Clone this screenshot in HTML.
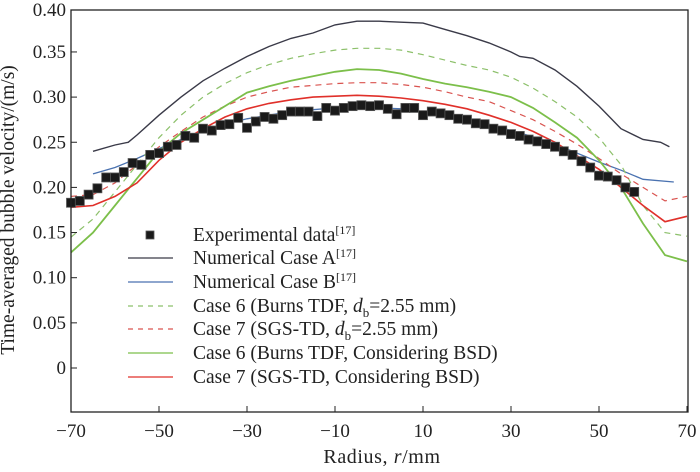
<!DOCTYPE html>
<html><head><meta charset="utf-8"><style>
body{margin:0;background:#fff}
svg{display:block;font-family:"Liberation Serif",serif}
</style></head><body>
<svg id="c" width="700" height="472" viewBox="0 0 700 472">
<rect x="0" y="0" width="700" height="472" fill="#fff"/>
<g id="marks"></g>
<rect x="71" y="10" width="617" height="402" fill="none" stroke="#222" stroke-width="1.3"/>
<g id="axes"></g>
<text x="14" y="210" font-size="19.5" fill="#222" text-anchor="middle" transform="rotate(-90 14 210)">Time-averaged bubble velocity/(m/s)</text>
<text x="382" y="463" font-size="20" fill="#222" text-anchor="middle" letter-spacing="0.6">Radius, <tspan font-style="italic">r</tspan>/mm</text>
<g id="legend"></g>
</svg>
<script>
const expR=[-70,-68,-66,-64,-62,-60,-58,-56,-54,-52,-50,-48,-46,-44,-42,-40,-38,-36,-34,-32,-30,-28,-26,-24,-22,-20,-18,-16,-14,-12,-10,-8,-6,-4,-2,0,2,4,6,8,10,12,14,16,18,20,22,24,26,28,30,32,34,36,38,40,42,44,46,48,50,52,54,56,58];
const expV=[0.183,0.185,0.192,0.199,0.211,0.211,0.217,0.227,0.225,0.236,0.238,0.245,0.247,0.257,0.255,0.265,0.263,0.269,0.270,0.277,0.266,0.273,0.278,0.276,0.280,0.284,0.284,0.284,0.279,0.288,0.285,0.288,0.290,0.291,0.290,0.291,0.287,0.281,0.288,0.288,0.280,0.284,0.282,0.280,0.276,0.275,0.271,0.270,0.265,0.263,0.259,0.257,0.253,0.251,0.248,0.245,0.240,0.236,0.229,0.222,0.213,0.212,0.208,0.200,0.195];
const aR=[-65,-60,-57,-55,-50,-45,-40,-35,-30,-25,-20,-15,-10,-5,0,5,10,15,20,25,30,32,35,40,45,50,55,60,64,66];
const aV=[0.240,0.247,0.250,0.258,0.280,0.300,0.318,0.332,0.345,0.356,0.365,0.371,0.380,0.384,0.384,0.383,0.382,0.375,0.368,0.360,0.350,0.345,0.343,0.330,0.312,0.290,0.265,0.253,0.250,0.245];
const bR=[-65,-60,-55,-50,-45,-40,-35,-30,-25,-20,-15,-10,-5,0,5,10,15,20,25,30,35,40,45,50,55,60,67];
const bV=[0.215,0.222,0.232,0.243,0.253,0.262,0.270,0.276,0.280,0.284,0.286,0.288,0.289,0.288,0.287,0.284,0.280,0.275,0.270,0.263,0.256,0.248,0.238,0.228,0.219,0.209,0.206];
const rr=[-70,-65,-60,-55,-50,-45,-40,-35,-30,-25,-20,-15,-10,-5,0,5,10,15,20,25,30,35,40,45,50,55,60,65,70];
const g6dV=[0.145,0.165,0.195,0.225,0.255,0.280,0.300,0.315,0.327,0.336,0.343,0.348,0.352,0.354,0.354,0.352,0.347,0.341,0.335,0.330,0.322,0.310,0.295,0.278,0.255,0.225,0.180,0.150,0.146];
const r7dV=[0.190,0.192,0.205,0.225,0.245,0.262,0.278,0.290,0.300,0.306,0.311,0.313,0.315,0.316,0.316,0.314,0.311,0.306,0.300,0.295,0.285,0.275,0.262,0.248,0.232,0.215,0.200,0.185,0.190];
const g6sV=[0.128,0.150,0.180,0.210,0.240,0.260,0.275,0.290,0.305,0.312,0.318,0.323,0.328,0.331,0.330,0.326,0.320,0.315,0.311,0.306,0.300,0.288,0.272,0.255,0.230,0.200,0.160,0.125,0.118];
const r7sV=[0.178,0.180,0.190,0.205,0.230,0.250,0.265,0.278,0.287,0.293,0.297,0.300,0.301,0.302,0.301,0.299,0.296,0.292,0.287,0.280,0.272,0.262,0.250,0.235,0.220,0.200,0.180,0.162,0.168];
const xTicks=[-70,-50,-30,-10,10,30,50,70];
const yTicks=[0,0.05,0.10,0.15,0.20,0.25,0.30,0.35,0.40];
const yTickLabels=["0","0.05","0.10","0.15","0.20","0.25","0.30","0.35","0.40"];
const legendLabels=["Experimental data","Numerical Case A","Numerical Case B","Case 6 (Burns TDF, ","Case 7 (SGS-TD, ","Case 6 (Burns TDF, Considering BSD)","Case 7 (SGS-TD, Considering BSD)"];

const NS="http://www.w3.org/2000/svg";
const X=r=>71+(r+70)*4.4;
const Y=v=>368-v*903;
function mk(tag,attrs,parent){const e=document.createElementNS(NS,tag);for(const k in attrs)e.setAttribute(k,attrs[k]);parent.appendChild(e);return e;}
const marks=document.getElementById('marks'),axes=document.getElementById('axes'),leg=document.getElementById('legend');
function line(rs,vs,color,dash,w,name){
  const p=mk('path',{d:rs.map((r,i)=>(i?'L':'M')+X(r).toFixed(1)+','+Y(vs[i]).toFixed(1)).join(''),fill:'none',stroke:color,'stroke-width':w},marks);
  if(dash)p.setAttribute('stroke-dasharray',dash);
  
  
}
line(aR,aV,'#3a3a48',null,1.4,'numerical-case-a-line');
line(bR,bV,'#4a72b0',null,1.3,'numerical-case-b-line');
line(rr,g6dV,'#8cc06a','6,5',1.2,'case6-burns-db-line');
line(rr,r7dV,'#d9534f','6,5',1.2,'case7-sgs-db-line');
line(rr,g6sV,'#7cbf4a',null,1.8,'case6-burns-bsd-line');
line(rr,r7sV,'#e0302a',null,1.6,'case7-sgs-bsd-line');
expR.forEach((r,i)=>{
  const s=mk('rect',{x:X(r)-4.5,y:Y(expV[i])-4.5,width:9,height:9,fill:'#1a1a1a',stroke:'#555','stroke-width':0.8},marks);
  
  
});
xTicks.forEach(t=>{
  const l=mk('line',{x1:X(t),x2:X(t),y1:412,y2:406,stroke:'#222','stroke-width':1},axes);
  
  
  const tx=mk('text',{x:X(t),y:437,'font-size':19,fill:'#222','text-anchor':'middle'},axes);
  tx.textContent=(t<0?'\u2212'+(-t):String(t));
  
  
});
yTicks.forEach((t,i)=>{
  const yy=Math.max(Y(t),10);
  if(i<yTicks.length-1){
    const l=mk('line',{x1:71,x2:77,y1:yy,y2:yy,stroke:'#222','stroke-width':1},axes);
    
    
  }
  const tx=mk('text',{x:66,y:yy+6,'font-size':19,fill:'#222','text-anchor':'end'},axes);
  tx.textContent=yTickLabels[i];
  
  
});
const rowsY=[235,258,282,306,329,353,377];
const legStyles=[null,['#3a3a48',null],['#4a72b0',null],['#8cc06a','5,5'],['#d9534f','5,5'],['#7cbf4a',null],['#e0302a',null]];
rowsY.forEach((y,i)=>{
  if(i===0){
    const s=mk('rect',{x:146,y:y-4,width:8,height:8,fill:'#1a1a1a',stroke:'#555','stroke-width':0.8},leg);
    
    
  } else {
    const l=mk('line',{x1:128,x2:173,y1:y,y2:y,stroke:legStyles[i][0],'stroke-width':1.2},leg);
    if(legStyles[i][1])l.setAttribute('stroke-dasharray',legStyles[i][1]);
    
    
  }
  const t=mk('text',{x:193,y:y+6,'font-size':19.5,fill:'#222'},leg);
  
  
  let html=legendLabels[i];
  if(i<=2) html+='<tspan dy="-7" font-size="12">[17]</tspan>';
  if(i===3||i===4) html+='<tspan font-style="italic">d</tspan><tspan dy="5" font-size="13">b</tspan><tspan dy="-5">=2.55 mm)</tspan>';
  t.innerHTML=html;
});
</script>
</body></html>
